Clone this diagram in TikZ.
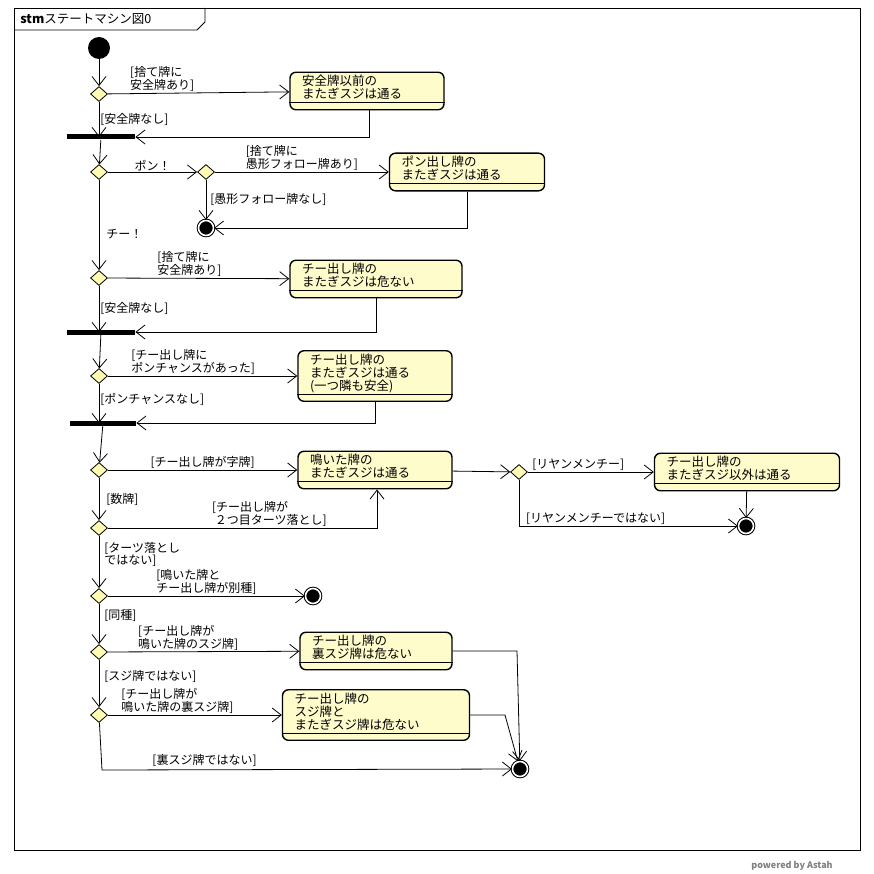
\documentclass[tikz,border=0pt]{standalone}
\usepackage{fontspec}
\setmainfont{Noto Sans CJK JP}
\usetikzlibrary{arrows.meta,shapes.geometric}
\tikzset{
  st/.style={draw,line width=1.4pt,rounded corners=6pt,fill=yellow!20,align=left,inner xsep=12pt,inner ysep=3pt,text width=#1,font=\fontsize{12.5}{13}\selectfont},
  dec/.style={draw,diamond,fill=yellow!30,minimum width=17pt,minimum height=15pt,inner sep=0pt},
  fin/.style={draw,circle,double,double distance=1.6pt,fill=black,minimum size=15pt,inner sep=0pt,line width=1pt},
  bar/.style={fill=black,minimum height=5pt,inner sep=0pt},
  lbl/.style={align=left,inner sep=1pt,font=\fontsize{12}{12}\selectfont},
  ar/.style={-{Straight Barb[length=9pt,width=14pt]}},
}
\newcommand{\comp}[1]{\draw ([yshift=8pt]#1.south west)--([yshift=8pt]#1.south east);}
\newcommand{\gap}{\\[-5pt]\mbox{}}
\begin{document}
\begin{tikzpicture}[x=1pt,y=-1pt,line width=0.8pt]
\useasboundingbox (0,0) rectangle (874,874);
\draw (14,8) rectangle (860,850);
\draw (14,30)--(197,30)--(205,22)--(205,8);
\node[anchor=west,inner sep=0pt,font=\fontsize{12.5}{12.5}\selectfont] (ttl) at (20,19) {\textbf{stm}ステートマシン図0};
\node[font=\fontsize{9}{9}\selectfont\bfseries,text=gray] (pw) at (792,866) {powered by Astah};

\node[circle,fill=black,minimum size=22pt] (ini) at (99,48) {};
% block 1
\node[dec] (d1) at (99,94) {};
\node[st=130pt] (s1) at (367,91) {安全牌以前の\\またぎスジは通る\gap};
\comp{s1}
\node[bar,minimum width=68pt] (b1) at (101,137) {};
\draw[ar] (ini)--(d1);
\draw[ar] (d1)--(s1) node[lbl,pos=0.3,above] {[捨て牌に\\安全牌あり]};
\draw[ar] (d1)--(d1|-b1) node[lbl,midway,right] {[安全牌なし]};
\draw[ar] (s1.south-|369,0)--(369,137)--(b1.east);
% block 2
\node[dec] (d2) at (99,172) {};
\node[dec] (d3) at (206,172) {};
\node[st=131pt] (s2) at (467,172) {ポン出し牌の\\またぎスジは通る\gap};
\comp{s2}
\node[fin] (f1) at (206,228) {};
\draw[ar] (b1)--(d2);
\draw[ar] (d2)--(d3) node[lbl,midway,above] {ポン！};
\draw[ar] (d3)--(s2) node[lbl,midway,above] {[捨て牌に\\愚形フォロー牌あり]};
\draw[ar] (d3)--(f1) node[lbl,midway,right,xshift=3pt] {[愚形フォロー牌なし]};
\draw[ar] (s2.south)--(s2.south|-f1)--(f1);
% block 3
\node[dec] (d4) at (99,278) {};
\node[st=148pt] (s3) at (376,279) {チー出し牌の\\またぎスジは危ない\gap};
\comp{s3}
\node[bar,minimum width=68pt] (b2) at (101,332) {};
\draw[ar] (d2)--(d4) node[lbl,pos=0.6,right,xshift=6pt] {チー！};
\draw[ar] (d4)--(s3) node[lbl,pos=0.45,above] {[捨て牌に\\安全牌あり]};
\draw[ar] (d4)--(d4|-b2) node[lbl,midway,right] {[安全牌なし]};
\draw[ar] (s3.south)--(s3.south|-b2)--(b2.east);
% block 4
\node[dec] (d5) at (99,376) {};
\node[st=130pt] (s4) at (375,376) {チー出し牌の\\またぎスジは通る\\(一つ隣も安全)\gap};
\comp{s4}
\node[bar,minimum width=66pt] (b3) at (103,423) {};
\draw[ar] (b2)--(d5);
\draw[ar] (d5)--(s4) node[lbl,pos=0.45,above] {[チー出し牌に\\ポンチャンスがあった]};
\draw[ar] (d5)--(d5|-b3) node[lbl,midway,right,yshift=4pt] {[ポンチャンスなし]};
\draw[ar] (s4.south)--(s4.south|-b3)--(b3.east);
% block 5
\node[dec] (d6) at (99,470) {};
\node[st=130pt] (s5) at (375,470) {鳴いた牌の\\またぎスジは通る\gap};
\comp{s5}
\node[dec] (d7) at (519,472) {};
\node[st=161pt] (s6) at (747,472) {チー出し牌の\\またぎスジ以外は通る\gap};
\comp{s6}
\node[fin] (f2) at (746,526) {};
\node[dec] (d8) at (99,528) {};
\coordinate (c8) at (377,528);
\draw[ar] (b3)--(d6);
\draw[ar] (d6)--(s5) node[lbl,midway,above] {[チー出し牌が字牌]};
\draw[ar] (s5)--(d7);
\draw[ar] (d7)--(s6) node[lbl,pos=0.4,above] {[リヤンメンチー]};
\draw[ar] (d7)--(d7|-f2)--(f2) node[lbl,pos=0.35,above] {[リヤンメンチーではない]};
\draw[ar] (s6)--(f2);
\draw[ar] (d6)--(d8) node[lbl,midway,right,xshift=6pt] {[数牌]};
\draw[ar] (d8)--(c8) node[lbl,pos=0.6,above] {[チー出し牌が\\\ ２つ目ターツ落とし]} --(c8|-s5.south);
% block 6
\node[dec] (d9) at (99,596) {};
\node[fin] (f3) at (313,596) {};
\draw[ar] (d8)--(d9) node[lbl,pos=0.35,right,xshift=4pt] {[ターツ落とし\\ではない]};
\draw[ar] (d9)--(f3) node[lbl,midway,above] {[鳴いた牌と\\チー出し牌が別種]};
% block 7
\node[dec] (d10) at (99,652) {};
\node[st=128pt] (s7) at (376,651) {チー出し牌の\\裏スジ牌は危ない\gap};
\comp{s7}
\node[dec] (d11) at (99,715) {};
\node[st=163pt] (s8) at (376,715) {チー出し牌の\\スジ牌と\\またぎスジ牌は危ない\gap};
\comp{s8}
\node[fin] (f4) at (520,769) {};
\draw[ar] (d9)--(d10) node[lbl,pos=0.3,right,xshift=4pt] {[同種]};
\draw[ar] (d10)--(s7) node[lbl,pos=0.42,above] {[チー出し牌が\\鳴いた牌のスジ牌]};
\draw[ar] (d10)--(d11) node[lbl,pos=0.35,right,xshift=4pt] {[スジ牌ではない]};
\draw[ar] (d11)--(s8) node[lbl,pos=0.4,above] {[チー出し牌が\\鳴いた牌の裏スジ牌]};
\draw[ar] (d11)--(102,770)--(f4) node[lbl,pos=0.25,above,yshift=2pt] {[裏スジ牌ではない]};
\draw[ar] (s7.east)--(517,651)--(f4);
\draw[ar] (s8.east)--(505,715)--(f4);
\end{tikzpicture}
\end{document}
